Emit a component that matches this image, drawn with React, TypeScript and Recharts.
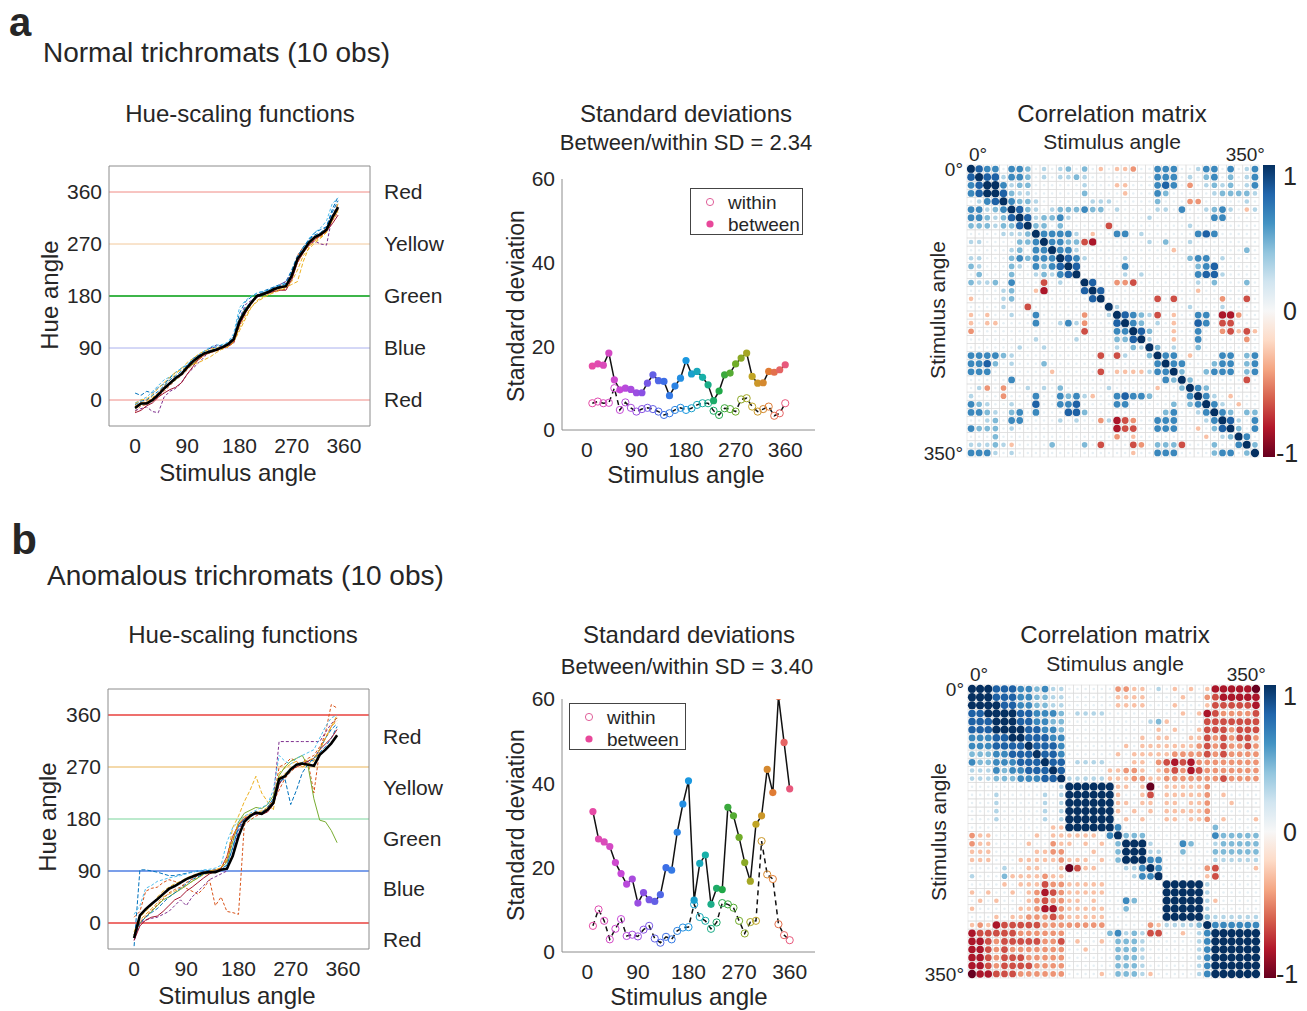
import React from 'react';
import { LineChart, ComposedChart, ScatterChart, Line, Scatter, XAxis, YAxis, ReferenceLine } from 'recharts';

const FONT = '"Liberation Sans", Arial, Helvetica, sans-serif';
const INK = '#262626';
const AXIS = '#8c8c8c';

// ---------- hue-scaling functions ----------
const stimAngles = [0, 10, 20, 30, 40, 50, 60, 70, 80, 90, 100, 110, 120, 130, 140, 150, 160, 170, 180, 190, 200, 210, 220, 230, 240, 250, 260, 270, 280, 290, 300, 310, 320, 330, 340, 350];
const hueTicks = [0, 90, 180, 270, 360];
const hueNames = ['Red', 'Blue', 'Green', 'Yellow', 'Red'];
const normalNameTicks = [0, 90, 180, 270, 360];
const anomalousNameTicks = [-29, 59, 147, 234, 322];

const normalMean = [-14, -6, -6, 0, 9, 20, 29, 38, 45, 57, 67, 75, 81, 84, 87, 91, 96, 105, 136, 154, 168, 180, 183, 187, 192, 195, 197, 215, 244, 258, 273, 282, 287, 295, 316, 334];
const normalObs1 = [12, 8, 15, 12, 22, 28, 38, 48, 55, 60, 72, 78, 85, 90, 92, 95, 98, 110, 150, 170, 178, 185, 188, 192, 196, 200, 205, 225, 250, 262, 278, 290, 295, 300, 330, 352];
const normalObs2 = [-20, -10, -8, -2, 5, 15, 25, 35, 42, 52, 62, 70, 78, 82, 86, 90, 95, 100, 130, 150, 165, 178, 182, 185, 188, 190, 192, 210, 250, 265, 270, 278, 283, 292, 310, 325];
const normalObs3 = [-10, -5, -2, 5, 12, 25, 35, 45, 55, 65, 72, 80, 85, 88, 90, 92, 93, 100, 120, 140, 160, 172, 178, 183, 188, 192, 195, 200, 205, 240, 265, 275, 282, 290, 310, 328];
const normalObs4 = [-18, -15, -12, -20, -22, 5, 15, 20, 30, 45, 55, 65, 75, 90, 95, 92, 95, 98, 140, 165, 172, 178, 182, 186, 190, 200, 205, 220, 240, 258, 270, 275, 270, 268, 318, 340];
const normalObs5 = [-15, -8, -5, 2, 10, 18, 28, 35, 45, 55, 62, 72, 80, 85, 88, 92, 95, 105, 140, 158, 170, 180, 185, 188, 192, 196, 198, 218, 245, 258, 270, 280, 286, 293, 315, 330];
const normalObs6 = [-5, 0, 5, 15, 25, 35, 40, 48, 55, 62, 70, 78, 85, 92, 95, 96, 100, 115, 160, 172, 180, 185, 188, 190, 195, 198, 200, 210, 240, 262, 280, 290, 298, 310, 340, 350];
const normalObs7 = [-22, -18, -10, -5, 5, 12, 18, 22, 30, 45, 58, 72, 80, 85, 88, 90, 92, 100, 130, 150, 168, 178, 182, 185, 188, 190, 190, 208, 238, 255, 268, 278, 285, 292, 305, 320];
const normalObs8 = [-8, -2, 0, 8, 15, 25, 35, 42, 50, 58, 68, 75, 82, 86, 88, 92, 98, 110, 140, 160, 170, 182, 186, 190, 195, 198, 202, 222, 248, 265, 278, 286, 290, 300, 325, 345];
const normalObs9 = [-12, -6, -4, 2, 12, 22, 30, 38, 46, 55, 63, 70, 78, 82, 85, 88, 92, 100, 132, 152, 168, 180, 184, 188, 190, 194, 196, 212, 238, 255, 268, 278, 284, 292, 312, 330];
const normalObs10 = [-6, 0, 2, 10, 20, 30, 40, 48, 52, 58, 62, 65, 70, 75, 82, 88, 92, 100, 125, 145, 160, 170, 176, 182, 186, 190, 194, 205, 225, 250, 262, 272, 280, 290, 315, 340];
const normalObservers = [normalObs1, normalObs2, normalObs3, normalObs4, normalObs5, normalObs6, normalObs7, normalObs8, normalObs9, normalObs10];

const anomalousMean = [-26, 13, 24, 33, 41, 50, 59, 64, 70, 76, 80, 84, 87, 88, 88, 92, 94, 116, 150, 175, 185, 191, 189, 196, 208, 249, 254, 266, 274, 276, 274, 272, 291, 300, 311, 325];
const anomalousObs1 = [-40, 92, 92, 90, 88, 85, 82, 82, 84, 86, 88, 90, 90, 91, 92, 94, 100, 130, 168, 180, 185, 190, 192, 195, 205, 240, 258, 268, 275, 278, 280, 282, 295, 305, 320, 340];
const anomalousObs2 = [10, 20, 55, 60, 62, 70, 75, 72, 68, 60, 55, 50, 60, 75, 30, 45, 20, 18, 15, 170, 178, 185, 190, 195, 210, 270, 275, 285, 280, 270, 278, 225, 300, 330, 378, 372];
const anomalousObs3 = [-20, 5, 15, 25, 35, 45, 50, 55, 60, 65, 72, 78, 84, 86, 88, 95, 110, 165, 185, 210, 230, 254, 225, 210, 195, 260, 268, 275, 280, 270, 275, 280, 300, 320, 340, 350];
const anomalousObs4 = [-30, 0, 5, 8, 10, 15, 20, 30, 40, 30, 45, 55, 65, 75, 80, 85, 90, 120, 160, 180, 185, 188, 190, 200, 215, 314, 314, 314, 314, 314, 314, 314, 314, 330, 345, 355];
const anomalousObs5 = [-20, 0, 10, 20, 30, 40, 45, 52, 58, 65, 72, 78, 85, 88, 90, 95, 105, 140, 175, 190, 195, 200, 198, 205, 220, 255, 270, 280, 285, 290, 271, 215, 178, 175, 160, 139];
const anomalousObs6 = [15, 30, 60, 65, 72, 75, 78, 80, 82, 85, 88, 90, 92, 93, 95, 100, 140, 165, 175, 185, 190, 195, 200, 205, 230, 290, 280, 275, 285, 290, 295, 300, 320, 340, 355, 360];
const anomalousObs7 = [-30, -5, 5, 10, 12, 20, 30, 40, 45, 55, 62, 70, 78, 85, 90, 95, 115, 150, 170, 180, 185, 190, 188, 192, 205, 240, 255, 265, 270, 275, 280, 285, 300, 310, 320, 335];
const anomalousObs8 = [-25, 0, 10, 18, 25, 35, 45, 52, 60, 68, 75, 80, 85, 88, 90, 92, 100, 130, 165, 180, 185, 190, 192, 200, 215, 245, 250, 205, 230, 260, 275, 285, 300, 320, 335, 345];
const anomalousObs9 = [-20, 2, 12, 22, 32, 42, 52, 58, 62, 70, 76, 82, 87, 90, 92, 95, 108, 145, 170, 182, 186, 190, 192, 198, 210, 230, 250, 262, 270, 278, 285, 290, 305, 320, 340, 355];
const anomalousObs10 = [-15, 10, 20, 30, 45, 55, 62, 68, 72, 78, 82, 86, 88, 90, 92, 96, 112, 148, 172, 184, 188, 192, 194, 200, 212, 252, 258, 268, 274, 278, 282, 285, 300, 320, 340, 360];
const anomalousObservers = [anomalousObs1, anomalousObs2, anomalousObs3, anomalousObs4, anomalousObs5, anomalousObs6, anomalousObs7, anomalousObs8, anomalousObs9, anomalousObs10];

// ---------- standard deviations ----------
const sdAngles = [10, 20, 30, 40, 50, 60, 70, 80, 90, 100, 110, 120, 130, 140, 150, 160, 170, 180, 190, 200, 210, 220, 230, 240, 250, 260, 270, 280, 290, 300, 310, 320, 330, 340, 350, 360];
const sdTicks = [0, 20, 40, 60];
const normalBetween = [15.3, 15.8, 15.5, 18.4, 12.0, 9.6, 10.0, 9.7, 8.9, 8.9, 11.2, 13.2, 11.8, 11.6, 8.2, 10.5, 12.4, 16.6, 13.4, 14.0, 12.6, 10.8, 7.0, 9.3, 13.2, 13.6, 15.8, 17.2, 18.4, 12.8, 11.2, 11.3, 14.0, 13.8, 14.4, 15.6];
const normalWithin = [6.4, 6.8, 6.4, 6.5, 10.0, 4.8, 6.6, 5.3, 4.4, 5.0, 5.3, 5.0, 4.4, 3.6, 4.0, 4.8, 5.3, 4.8, 5.2, 6.0, 6.4, 6.4, 4.6, 3.6, 5.2, 5.0, 4.4, 7.3, 7.6, 5.6, 4.4, 5.0, 5.6, 3.4, 4.0, 6.4];
const anomalousBetween = [33.3, 26.8, 26.1, 25.0, 21.2, 18.6, 16.1, 17.3, 11.6, 14.1, 12.4, 12.0, 13.6, 20.0, 19.4, 28.4, 35.1, 40.6, 12.3, 21.0, 23.0, 11.3, 15.1, 14.8, 34.3, 32.3, 27.2, 21.2, 16.8, 30.3, 32.3, 43.3, 37.8, 60.6, 49.7, 38.7];
const anomalousWithin = [6.2, 10.1, 7.4, 3.0, 5.5, 7.8, 3.8, 4.1, 3.7, 5.3, 6.2, 3.2, 2.2, 3.6, 3.0, 5.0, 5.8, 5.9, 11.3, 8.3, 7.4, 5.5, 7.0, 11.6, 11.3, 10.5, 7.4, 4.4, 7.1, 7.4, 26.3, 18.4, 17.3, 6.6, 4.0, 2.8];

// ---------- correlation matrices (upper triangle, row i = cols i..35) ----------
// 0 ~ 0, 1..5 positive (5 = 1), a..e negative (e = -1)
const corrTicks = [0, 35];
const corrTickLabels = ['0°', '350°'];
const normalCorr = [
  '543303320101' + '2020a0aab003' + '330013303013',
  '54413320101' + '121000000003' + '330102302013',
  '5531220000' + '001000aa0003' + '430b01212013',
  '542110000' + '0020000a0003' + '200000122221',
  '53221000' + '000111000002' + '000bb0000010',
  '5421012' + '223220100001' + '1030012310a1',
  '541223' + '100000000010' + '000000330000',
  '52202' + '00000c000000' + '000100000000',
  '5333' + '310a00330100' + '000034300000',
  '533' + '22cd00000010' + '200100000000',
  '53' + '310000000000' + '0a0000000020',
  '5' + '431000010000' + '000233010000',
  '540000030000' + '000023400000',
  '50000010100' + '000034410000',
  '5400bbc000' + '000010200020',
  '540000000' + '0000a0000000',
  '5000000c' + '0c00000b00c0',
  '5100000' + '000100010000',
  '54321c0a00330ddb00',
  '532010a00430cc000',
  '54200a00300bcaca',
  '5100a00300000b0',
  '52010020000000',
  '5330a00033023',
  '533000233023',
  '52002333023',
  '52000000c0',
  '532000000',
  '5310a000',
  '5310a00',
  '532022',
  '54103',
  '5203',
  '530',
  '52',
  '5',
];
const anomalousCorr = [
  '555444332311' + '000000bbaa01' + '0a0a0addddde',
  '55444332211' + '000000aaaa00' + '00a00bcddddd',
  '5544332211' + '000000aaaa00' + '0a000acccccd',
  '555443332' + '011110000000' + '00a0adcbbbbc',
  '55443322' + '000000000012' + 'a0000ccccccc',
  '5544332' + '00000000000a' + '0a00acccbccc',
  '544433' + '000000000a0a' + 'a00aacbcbccb',
  '54443' + '0000000a0aaa' + 'aaaabcbcbbcb',
  '5443' + '000000a0aaaa' + 'abbbbcbcbbbb',
  '544' + '01111000aa0b' + 'cdcdbbbbbbbb',
  '54' + '00000aabba0a' + 'bcbdcbbbbbbb',
  '5' + '11111aaabbaa' + 'bbbbbbbcbbbb',
  '555555' + 'aa0ae0' + 'aaaaab000000',
  '55555' + 'a00ac0' + 'aaaaab0a0000',
  '5555' + 'aa0aa0' + 'aa0aab00a000',
  '555' + 'a0a0a0' + 'aaaaab000000',
  '55' + '0a0a00' + 'aa0aab0a000a',
  '5' + '300000' + '000000200000',
  '5' + '22200' + '000000322222',
  '555' + '10' + '003200122222',
  '55' + '11' + '002000222222',
  '5' + '33' + '000000111111',
  '5' + '3' + '00000bc0000a',
  '5' + '00000ac00000',
  '555551000000',
  '55551000000',
  '5551a00000',
  '551000000',
  '52111111',
  '5333333',
  '555555',
  '55555',
  '5555',
  '555',
  '55',
  '5',
];

// ---------- styling helpers ----------
const obsColors = ['#0072BD', '#D95319', '#EDB120', '#7E2F8E', '#77AC30', '#4DBEEE', '#A2142F', '#0072BD', '#D95319', '#EDB120'];
const obsDash = ['4 2', '3 2', '4 2', '3 2', '', '3 2', '', '4 2', '3 2', '4 2'];
const normalRefColors = ['#f08a84', '#aab0ee', '#3db54a', '#f2c89a', '#f08a84'];
const normalRefWidths = [1, 1, 2.2, 1, 1];
const anomalousRefColors = ['#e8413c', '#4f7fe3', '#a6e3bd', '#f0cc8e', '#e8413c'];
const anomalousRefWidths = [1.3, 1.3, 1.3, 1.3, 1.3];

const angleStops: [number, string][] = [[0, '#ec4c9c'], [60, '#c848d8'], [100, '#8a50e4'], [140, '#3c6ee6'], [180, '#1a98e0'], [210, '#18b0a8'], [240, '#20a848'], [270, '#70ac28'], [300, '#c0a424'], [330, '#e07c34'], [360, '#e8587c']];
const rdbuStops: [number, string][] = [[-1, '#67001f'], [-0.8, '#b2182b'], [-0.6, '#d6604d'], [-0.4, '#f4a582'], [-0.2, '#fddbc7'], [0, '#f7f7f7'], [0.2, '#d1e5f0'], [0.4, '#92c5de'], [0.6, '#4393c3'], [0.8, '#2166ac'], [1, '#053061']];
const levelValue: Record<string, number> = { '0': 0.09, '1': 0.3, '2': 0.45, '3': 0.65, '4': 0.82, '5': 1, a: -0.3, b: -0.45, c: -0.65, d: -0.82, e: -1 };

const hex = (h: string) => [1, 3, 5].map((k) => parseInt(h.slice(k, k + 2), 16));
function interp(stops: [number, string][], v: number) {
  if (v <= stops[0][0]) return stops[0][1];
  for (let k = 1; k < stops.length; k++) {
    if (v <= stops[k][0]) {
      const [v0, c0] = stops[k - 1];
      const [v1, c1] = stops[k];
      const t = (v - v0) / (v1 - v0);
      const a = hex(c0), b = hex(c1);
      return `rgb(${a.map((x, i) => Math.round(x + (b[i] - x) * t)).join(',')})`;
    }
  }
  return stops[stops.length - 1][1];
}

const tickStyle = (size: number) => ({ fill: INK, fontSize: size, fontFamily: FONT });

function Txt({ x, y, size, children, bold = false, rotate = 0, anchor = 'center' }: any) {
  const tx = anchor === 'center' ? '-50%' : anchor === 'end' ? '-100%' : '0';
  return (
    <div style={{
      position: 'absolute', left: x, top: y, fontSize: size, fontWeight: bold ? 700 : 400, color: INK,
      whiteSpace: 'nowrap', lineHeight: 1, fontFamily: FONT,
      transform: `translate(${tx}, -50%)${rotate ? ` rotate(${rotate}deg)` : ''}`,
    }}>{children}</div>
  );
}

function HueChart({ left, top, margin, mean, observers, refColors, refWidths, nameTicks }: any) {
  const data = stimAngles.map((angle, i) => {
    const row: Record<string, number> = { angle, mean: mean[i] };
    observers.forEach((o: number[], k: number) => { row['o' + k] = o[i]; });
    return row;
  });
  const nameOf = (v: number) => hueNames[nameTicks.indexOf(v)] ?? '';
  return (
    <div style={{ position: 'absolute', left, top }}>
      <LineChart width={430} height={320} data={data} margin={margin}>
        <XAxis type="number" dataKey="angle" domain={[-45, 405]} ticks={hueTicks} interval={0} allowDataOverflow
          axisLine={{ stroke: AXIS }} tickLine={false} tickSize={6} tickMargin={6} height={40} tick={tickStyle(21)} />
        <XAxis xAxisId="top" orientation="top" type="number" dataKey="angle" domain={[-45, 405]} allowDataOverflow
          tick={false} tickLine={false} axisLine={{ stroke: AXIS }} height={1} />
        <YAxis type="number" domain={[-45, 405]} ticks={hueTicks} interval={0} allowDataOverflow width={70}
          axisLine={{ stroke: AXIS }} tickLine={false} tickSize={6} tickMargin={1} tick={tickStyle(21)} />
        <YAxis yAxisId="right" orientation="right" type="number" domain={[-45, 405]} ticks={nameTicks} interval={0}
          allowDataOverflow width={88} tickFormatter={nameOf} axisLine={{ stroke: AXIS }} tickLine={false}
          tickSize={6} tickMargin={8} tick={tickStyle(21)} />
        {hueTicks.map((v, i) => (
          <ReferenceLine key={v} y={v} stroke={refColors[i]} strokeWidth={refWidths[i]} />
        ))}
        {observers.map((_: number[], k: number) => (
          <Line key={k} dataKey={'o' + k} stroke={obsColors[k]} strokeWidth={1} strokeDasharray={obsDash[k]}
            dot={false} isAnimationActive={false} />
        ))}
        <Line dataKey="mean" stroke="#000" strokeWidth={2.6} dot={false} isAnimationActive={false} />
      </LineChart>
    </div>
  );
}

const BetweenDot = (props: any) => {
  const { cx, cy, payload, index } = props;
  if (cx == null || cy == null) return <g key={index} />;
  return <circle key={index} cx={cx} cy={cy} r={3.6} fill={interp(angleStops, payload.angle)} />;
};
const WithinDot = (props: any) => {
  const { cx, cy, payload, index } = props;
  if (cx == null || cy == null) return <g key={index} />;
  return <circle key={index} cx={cx} cy={cy} r={3.6} fill="none" stroke={interp(angleStops, payload.angle)} strokeWidth={1} />;
};

function SdChart({ left, top, margin, xMax, between, within }: any) {
  const data = sdAngles.map((angle, i) => ({ angle, between: between[i], within: within[i] }));
  return (
    <div style={{ position: 'absolute', left, top }}>
      <ComposedChart width={330} height={330} data={data} margin={margin}>
        <XAxis type="number" dataKey="angle" domain={[-45, xMax]} ticks={hueTicks} interval={0} allowDataOverflow
          axisLine={{ stroke: AXIS }} tickLine={false} tickSize={6} tickMargin={6} height={40} tick={tickStyle(21)} />
        <YAxis type="number" domain={[0, 60]} ticks={sdTicks} interval={0} allowDataOverflow width={62}
          axisLine={{ stroke: AXIS }} tickLine={false} tickSize={6} tickMargin={1} tick={tickStyle(21)} />
        <Line dataKey="within" stroke="#111" strokeWidth={1.5} strokeDasharray="5 4" dot={WithinDot} isAnimationActive={false} />
        <Line dataKey="between" stroke="#111" strokeWidth={1.5} dot={BetweenDot} isAnimationActive={false} />
      </ComposedChart>
    </div>
  );
}

function buildMatrix(upper: string[]) {
  const cells: { row: number; col: number; r: number }[] = [];
  upper.forEach((rowStr, i) => {
    rowStr.split('').forEach((ch, k) => {
      const j = i + k;
      const r = levelValue[ch] ?? 0;
      cells.push({ row: i, col: j, r });
      if (j !== i) cells.push({ row: j, col: i, r });
    });
  });
  return cells;
}

const CELL = 292 / 36;
const CorrCell = (props: any) => {
  const { cx, cy, payload } = props;
  const rad = 4.2 * Math.sqrt(Math.abs(payload.r));
  return (
    <g>
      <rect x={cx - CELL / 2} y={cy - CELL / 2} width={CELL} height={CELL} fill="none" stroke="#dcdcdc" strokeWidth={0.6} />
      <circle cx={cx} cy={cy} r={rad} fill={interp(rdbuStops, payload.r)} />
    </g>
  );
};

const corrLabel = (v: number) => corrTickLabels[corrTicks.indexOf(v)] ?? '';

const CorrTopTick = (props: any) => {
  const { x, y, payload } = props;
  const last = payload.value === corrTicks[corrTicks.length - 1];
  return (
    <text x={last ? x + 10 : x - 2} y={y} textAnchor={last ? 'end' : 'start'} fill={INK} fontSize={19} fontFamily={FONT}>
      {corrLabel(payload.value)}
    </text>
  );
};

function CorrMatrix({ left, top, margin, upper, yWidth }: any) {
  const cells = buildMatrix(upper);
  return (
    <div style={{ position: 'absolute', left, top }}>
      <ScatterChart width={370} height={330} margin={margin}>
        <XAxis type="number" dataKey="col" orientation="top" domain={[-0.5, 35.5]} ticks={corrTicks} interval={0}
          axisLine={false} tickLine={false} tickSize={0} tickMargin={4} height={25} tick={<CorrTopTick />} />
        <YAxis type="number" dataKey="row" reversed domain={[-0.5, 35.5]} ticks={corrTicks} interval={0}
          tickFormatter={corrLabel} axisLine={false} tickLine={false} tickSize={0} tickMargin={4} width={yWidth} tick={tickStyle(19)} />
        <Scatter data={cells} shape={CorrCell} isAnimationActive={false} />
      </ScatterChart>
    </div>
  );
}

const colorbarGradient = `linear-gradient(to bottom, ${[...rdbuStops].reverse().map(([, c]) => c).join(', ')})`;

function Colorbar({ left, top, height, labelX }: any) {
  return (
    <>
      <div style={{ position: 'absolute', left, top, width: 12, height, background: colorbarGradient }} />
      <Txt x={labelX + 2} y={top + 11} size={25} anchor="start">1</Txt>
      <Txt x={labelX + 2} y={top + height / 2} size={25} anchor="start">0</Txt>
      <Txt x={labelX - 5} y={top + height - 4} size={25} anchor="start">-1</Txt>
    </>
  );
}

function Legend({ left, top, width }: any) {
  return (
    <div style={{ position: 'absolute', left, top, width, height: 47, border: '1px solid #444', boxSizing: 'border-box', background: '#fff' }}>
      <svg width={20} height={46} style={{ position: 'absolute', left: 9, top: 0 }}>
        <circle cx={10} cy={13} r={3.6} fill="none" stroke="#e0609a" strokeWidth={1} />
        <circle cx={10} cy={35} r={3.6} fill="#e8489a" />
      </svg>
      <Txt x={37} y={13} size={19} anchor="start">within</Txt>
      <Txt x={37} y={35} size={19} anchor="start">between</Txt>
    </div>
  );
}

export default function App() {
  return (
    <div style={{ position: 'absolute', left: 0, top: 0, width: 1307, height: 1011, background: '#fff', fontFamily: FONT, overflow: 'hidden' }}>
      {/* panel a */}
      <Txt x={20} y={22} size={40} bold>a</Txt>
      <Txt x={43} y={53} size={28} anchor="start">Normal trichromats (10 obs)</Txt>
      <Txt x={240} y={114} size={24}>Hue-scaling functions</Txt>
      <HueChart left={30} top={150} margin={{ top: 15, right: 2, bottom: 4, left: 9 }} mean={normalMean}
        observers={normalObservers} refColors={normalRefColors} refWidths={normalRefWidths} nameTicks={normalNameTicks} />
      <Txt x={50} y={295} size={24} rotate={-90}>Hue angle</Txt>
      <Txt x={238} y={473} size={24}>Stimulus angle</Txt>

      <Txt x={686} y={114} size={24}>Standard deviations</Txt>
      <Txt x={686} y={143} size={22}>Between/within SD = 2.34</Txt>
      <SdChart left={500} top={160} margin={{ top: 19, right: 15, bottom: 20, left: 0 }} xMax={414}
        between={normalBetween} within={normalWithin} />
      <Legend left={690} top={188} width={113} />
      <Txt x={516} y={306} size={23} rotate={-90}>Standard deviation</Txt>
      <Txt x={686} y={475} size={24}>Stimulus angle</Txt>

      <Txt x={1112} y={114} size={24}>Correlation matrix</Txt>
      <Txt x={1112} y={141} size={21}>Stimulus angle</Txt>
      <CorrMatrix left={915} top={135} margin={{ top: 5, right: 26, bottom: 8, left: 0 }} upper={normalCorr} yWidth={52} />
      <Colorbar left={1263} top={165} height={292} labelX={1281} />
      <Txt x={937} y={310} size={21} rotate={-90}>Stimulus angle</Txt>

      {/* panel b */}
      <Txt x={24} y={540} size={42} bold>b</Txt>
      <Txt x={47} y={576} size={28} anchor="start">Anomalous trichromats (10 obs)</Txt>
      <Txt x={243} y={635} size={24}>Hue-scaling functions</Txt>
      <HueChart left={30} top={670} margin={{ top: 18, right: 3, bottom: 1, left: 8 }} mean={anomalousMean}
        observers={anomalousObservers} refColors={anomalousRefColors} refWidths={anomalousRefWidths} nameTicks={anomalousNameTicks} />
      <Txt x={48} y={817} size={24} rotate={-90}>Hue angle</Txt>
      <Txt x={237} y={996} size={24}>Stimulus angle</Txt>

      <Txt x={689} y={635} size={24}>Standard deviations</Txt>
      <Txt x={687} y={667} size={22}>Between/within SD = 3.40</Txt>
      <SdChart left={500} top={680} margin={{ top: 19, right: 15, bottom: 18, left: 0 }} xMax={405}
        between={anomalousBetween} within={anomalousWithin} />
      <Legend left={569} top={703} width={117} />
      <Txt x={516} y={825} size={23} rotate={-90}>Standard deviation</Txt>
      <Txt x={689} y={997} size={24}>Stimulus angle</Txt>

      <Txt x={1115} y={635} size={24}>Correlation matrix</Txt>
      <Txt x={1115} y={663} size={21}>Stimulus angle</Txt>
      <CorrMatrix left={915} top={655} margin={{ top: 5, right: 25, bottom: 7, left: 0 }} upper={anomalousCorr} yWidth={53} />
      <Colorbar left={1264} top={685} height={293} labelX={1281} />
      <Txt x={938} y={832} size={21} rotate={-90}>Stimulus angle</Txt>
    </div>
  );
}
